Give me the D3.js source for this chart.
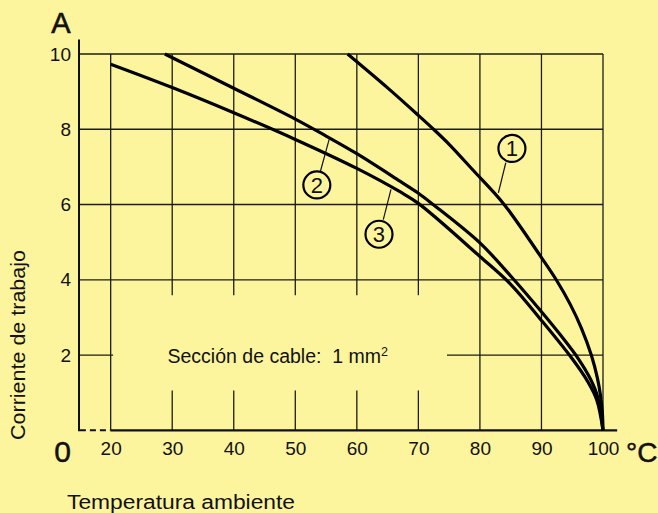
<!DOCTYPE html>
<html>
<head>
<meta charset="utf-8">
<script src="https://cdn.jsdelivr.net/npm/d3@7"></script>
<style>
  html, body { margin: 0; padding: 0; background: #fdf59e; }
  svg { display: block; }
  text { font-family: "Liberation Sans", Arial, sans-serif; fill: #111; }
</style>
</head>
<body>
<svg id="chart" width="658" height="513"></svg>
<script>
// ---- data ----
const xTicks = [20, 30, 40, 50, 60, 70, 80, 90, 100];
const yTicks = [2, 4, 6, 8, 10];

const curve1Temp = [58.5, 65, 70, 72.6, 75, 78.9, 83.8, 90, 92.4, 94.7, 96.5, 98.1, 99.1, 99.6, 99.9, 100];
const curve1Amp  = [10, 9.1, 8.37, 7.98, 7.6, 6.91, 6.03, 4.59, 4.0, 3.34, 2.71, 2.0, 1.38, 0.92, 0.46, 0];

const curve2Temp = [28.8, 40, 50, 55, 60, 67, 70, 72.4, 80, 85, 90, 93, 96, 98, 99.2, 100];
const curve2Amp  = [10, 9.09, 8.27, 7.82, 7.35, 6.62, 6.3, 6.0, 4.98, 4.1, 3.15, 2.55, 1.9, 1.35, 0.85, 0];

const curve3Temp = [20, 30, 40, 50, 60, 67, 70, 80, 85, 90, 95, 97.5, 99, 100];
const curve3Amp  = [9.73, 9.11, 8.44, 7.73, 6.96, 6.34, 6.03, 4.62, 3.88, 2.92, 1.9, 1.3, 0.8, 0];

const curveNames = ["1", "2", "3"];

// ---- layout ----
const svg = d3.select("#chart");
const x = d3.scaleLinear().domain([15, 100]).range([79.9, 603]);
const y = d3.scaleLinear().domain([0, 10]).range([430.3, 54]);

// callout positions (data coordinates): circle centre and leader line
const callouts = [
  { c: [85.2, 7.49], l0: [84.2, 7.11], l1: [83.0, 6.31] },
  { c: [53.5, 6.52], l0: [54.1, 6.89], l1: [55.5, 7.73] },
  { c: [63.6, 5.21], l0: [64.3, 5.60], l1: [65.55, 6.40] }
];

const gridColor = "#1c1c12";
const grid = svg.append("g").attr("stroke", gridColor).attr("stroke-width", 1.3).attr("fill", "none");

// vertical grid lines (30..70 broken around the annotation)
xTicks.forEach(t => {
  if (t >= 30 && t <= 70) {
    grid.append("line").attr("x1", x(t)).attr("x2", x(t)).attr("y1", y(10)).attr("y2", y(3.59));
    grid.append("line").attr("x1", x(t)).attr("x2", x(t)).attr("y1", y(1.06)).attr("y2", y(0));
  } else {
    grid.append("line").attr("x1", x(t)).attr("x2", x(t)).attr("y1", y(10)).attr("y2", y(0));
  }
});
// horizontal grid lines (2 broken around the annotation)
yTicks.forEach(v => {
  if (v === 2) {
    grid.append("line").attr("x1", x(15)).attr("x2", x(20.4)).attr("y1", y(v)).attr("y2", y(v));
    grid.append("line").attr("x1", x(74.65)).attr("x2", x(100)).attr("y1", y(v)).attr("y2", y(v));
  } else {
    grid.append("line").attr("x1", x(15)).attr("x2", x(100)).attr("y1", y(v)).attr("y2", y(v));
  }
});

// axes lines
svg.append("line").attr("x1", x(15) - 0.9).attr("x2", x(15) - 0.9).attr("y1", 39.5).attr("y2", y(0) + 1)
  .attr("stroke", "#111").attr("stroke-width", 2);
svg.append("line").attr("x1", x(20)).attr("x2", x(102.3)).attr("y1", y(0)).attr("y2", y(0))
  .attr("stroke", "#111").attr("stroke-width", 2.2);
svg.append("line").attr("x1", x(15)).attr("x2", x(20)).attr("y1", y(0)).attr("y2", y(0))
  .attr("stroke", "#111").attr("stroke-width", 2).attr("stroke-dasharray", "6,4");

// tick labels via d3 axes
const xAxis = svg.append("g").attr("transform", `translate(0,${y(0)})`)
  .call(d3.axisBottom(x).tickValues(xTicks).tickSize(0).tickPadding(11.5));
xAxis.select(".domain").remove();
xAxis.selectAll("text").attr("font-size", 19).attr("font-family", "Liberation Sans, Arial, sans-serif").attr("fill", "#111");

const yAxis = svg.append("g").attr("transform", `translate(${x(15) - 0.9},0)`)
  .call(d3.axisLeft(y).tickValues(yTicks).tickSize(0).tickPadding(8));
yAxis.select(".domain").remove();
yAxis.selectAll("text").attr("font-size", 19).attr("font-family", "Liberation Sans, Arial, sans-serif").attr("fill", "#111");

// curves
const line = d3.line().x(d => x(d[0])).y(d => y(d[1])).curve(d3.curveCatmullRom.alpha(0.5));
const series = [
  d3.zip(curve1Temp, curve1Amp),
  d3.zip(curve2Temp, curve2Amp),
  d3.zip(curve3Temp, curve3Amp)
];
svg.append("g").selectAll("path").data(series).join("path")
  .attr("d", line).attr("fill", "none").attr("stroke", "#000")
  .attr("stroke-width", 3.2).attr("stroke-linejoin", "round");

// callouts
const cg = svg.append("g");
callouts.forEach((c, i) => {
  cg.append("line").attr("x1", x(c.l0[0])).attr("y1", y(c.l0[1]))
    .attr("x2", x(c.l1[0])).attr("y2", y(c.l1[1]))
    .attr("stroke", "#111").attr("stroke-width", 1.2);
  cg.append("circle").attr("cx", x(c.c[0])).attr("cy", y(c.c[1])).attr("r", 13.5)
    .attr("fill", "none").attr("stroke", "#000").attr("stroke-width", 2.2);
  cg.append("text").attr("x", x(c.c[0])).attr("y", y(c.c[1])).attr("dy", "0.36em")
    .attr("text-anchor", "middle").attr("font-size", 22).text(curveNames[i]);
});

// texts
svg.append("text").attr("x", 61).attr("y", 33).attr("text-anchor", "middle")
  .attr("font-size", 29).attr("stroke", "#111").attr("stroke-width", 0.6).text("A");
svg.append("text").attr("x", 62.5).attr("y", 461.7).attr("text-anchor", "middle")
  .attr("font-size", 30).attr("stroke", "#111").attr("stroke-width", 0.5).text("0");
svg.append("text").attr("x", 626).attr("y", 461.7)
  .attr("font-size", 28).attr("stroke", "#111").attr("stroke-width", 0.5).text("°C");

svg.append("text").attr("x", 67).attr("y", 509)
  .attr("font-size", 19.5).attr("textLength", 228).attr("lengthAdjust", "spacingAndGlyphs")
  .text("Temperatura ambiente");

svg.append("text").attr("transform", "translate(25,345) rotate(-90)")
  .attr("text-anchor", "middle").attr("font-size", 19.5)
  .attr("textLength", 190).attr("lengthAdjust", "spacingAndGlyphs")
  .text("Corriente de trabajo");

const sec = svg.append("text").attr("x", 167.5).attr("y", 362.5)
  .attr("font-size", 19.5).style("white-space", "pre");
sec.append("tspan").text("Sección de cable:  1 mm");
sec.append("tspan").attr("font-size", 12.5).attr("dy", -7).text("2");
</script>
</body>
</html>
